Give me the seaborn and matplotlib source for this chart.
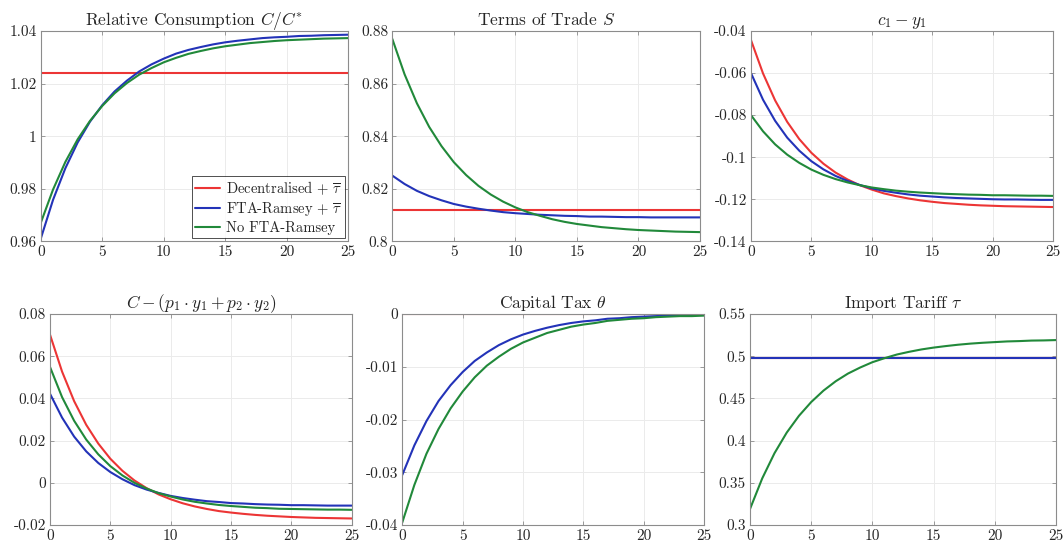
import numpy as np
import pandas as pd
import matplotlib
matplotlib.use('Agg')
import matplotlib.pyplot as plt
import seaborn as sns

# periods
t = list(range(26))

series_names = ['Decentralised', 'FTA-Ramsey', 'No FTA-Ramsey']
legend_labels = [r'Decentralised $+\ \overline{\tau}$', r'FTA-Ramsey $+\ \overline{\tau}$', 'No FTA-Ramsey']

# Relative consumption C/C*
cons_dec = [1.024] * 26
cons_fta = [0.961, 0.9758, 0.9878, 0.9976, 1.0055, 1.0118, 1.0170, 1.0211, 1.0246, 1.0273, 1.0295, 1.0314, 1.0328,
            1.0339, 1.0349, 1.0357, 1.0363, 1.0368, 1.0373, 1.0376, 1.0378, 1.0381, 1.0382, 1.0384, 1.0385, 1.0386]
cons_nofta = [0.967, 0.9797, 0.9902, 0.9988, 1.0058, 1.0115, 1.0163, 1.0202, 1.0234, 1.0259, 1.0281, 1.0298, 1.0313,
              1.0324, 1.0334, 1.0342, 1.0348, 1.0354, 1.0358, 1.0362, 1.0365, 1.0367, 1.0369, 1.0371, 1.0372, 1.0373]

# Terms of trade S
tot_dec = [0.812] * 26
tot_fta = [0.825, 0.8218, 0.8192, 0.8172, 0.8156, 0.8142, 0.8132, 0.8124, 0.8117, 0.8111, 0.8107, 0.8104, 0.8101,
           0.8099, 0.8097, 0.8096, 0.8094, 0.8094, 0.8093, 0.8092, 0.8092, 0.8091, 0.8091, 0.8091, 0.8091, 0.8091]
tot_nofta = [0.877, 0.8635, 0.8525, 0.8435, 0.8362, 0.8301, 0.8252, 0.8211, 0.8178, 0.8151, 0.8129, 0.8111, 0.8097,
             0.8084, 0.8074, 0.8066, 0.8060, 0.8054, 0.8050, 0.8046, 0.8043, 0.8041, 0.8039, 0.8037, 0.8036, 0.8035]

# c1 - y1
cy_dec = [-0.0443, -0.0602, -0.0730, -0.0832, -0.0914, -0.0979, -0.1031, -0.1073, -0.1106, -0.1133, -0.1154, -0.1172,
          -0.1185, -0.1196, -0.1205, -0.1212, -0.1218, -0.1222, -0.1226, -0.1229, -0.1231, -0.1233, -0.1234, -0.1235,
          -0.1236, -0.1237]
cy_fta = [-0.0600, -0.0727, -0.0827, -0.0907, -0.0969, -0.1019, -0.1058, -0.1089, -0.1113, -0.1132, -0.1148, -0.1160,
          -0.1169, -0.1177, -0.1183, -0.1187, -0.1191, -0.1194, -0.1196, -0.1198, -0.1200, -0.1201, -0.1201, -0.1202,
          -0.1203, -0.1203]
cy_nofta = [-0.0800, -0.0877, -0.0939, -0.0988, -0.1027, -0.1059, -0.1084, -0.1104, -0.1120, -0.1133, -0.1144, -0.1152,
            -0.1159, -0.1164, -0.1168, -0.1171, -0.1174, -0.1176, -0.1178, -0.1179, -0.1181, -0.1181, -0.1182, -0.1183,
            -0.1183, -0.1184]

# C - (p1*y1 + p2*y2)
nx_dec = [0.0702, 0.0527, 0.0387, 0.0275, 0.0186, 0.0114, 0.0057, 0.0011, -0.0025, -0.0055, -0.0078, -0.0097, -0.0112,
          -0.0124, -0.0134, -0.0141, -0.0147, -0.0152, -0.0156, -0.0159, -0.0162, -0.0164, -0.0166, -0.0167, -0.0168,
          -0.0169]
nx_fta = [0.0422, 0.0309, 0.0219, 0.0149, 0.0094, 0.0051, 0.0017, -0.0011, -0.0032, -0.0048, -0.0062, -0.0072, -0.0080,
          -0.0087, -0.0091, -0.0096, -0.0098, -0.0101, -0.0103, -0.0104, -0.0106, -0.0106, -0.0107, -0.0108, -0.0108,
          -0.0108]
nx_nofta = [0.0549, 0.0406, 0.0294, 0.0205, 0.0135, 0.0079, 0.0035, 0.0000, -0.0027, -0.0049, -0.0065, -0.0079,
            -0.0090, -0.0098, -0.0105, -0.0110, -0.0114, -0.0118, -0.0120, -0.0123, -0.0124, -0.0125, -0.0126,
            -0.0127, -0.0127, -0.0128]

# capital tax theta
tax_dec = [0.0] * 26
tax_fta = [-0.0305, -0.0249, -0.0203, -0.0165, -0.0135, -0.0110, -0.0089, -0.0073, -0.0059, -0.0048, -0.0039, -0.0032,
           -0.0026, -0.0021, -0.0017, -0.0014, -0.0012, -0.0009, -0.0008, -0.0006, -0.0005, -0.0004, -0.0003, -0.0003,
           -0.0002, -0.0002]
tax_nofta = [-0.0395, -0.0324, -0.0265, -0.0218, -0.0179, -0.0147, -0.0120, -0.0098, -0.0081, -0.0066, -0.0054,
             -0.0045, -0.0036, -0.0030, -0.0024, -0.0020, -0.0017, -0.0013, -0.0011, -0.0009, -0.0008, -0.0006,
             -0.0005, -0.0004, -0.0004, -0.0003]

# import tariff tau
tar_dec = [0.498] * 26
tar_fta = [0.498] * 26
tar_nofta = [0.3190, 0.3553, 0.3851, 0.4095, 0.4294, 0.4457, 0.4592, 0.4703, 0.4794, 0.4866, 0.4929, 0.4977, 0.5020,
             0.5052, 0.5080, 0.5102, 0.5120, 0.5136, 0.5149, 0.5159, 0.5167, 0.5175, 0.5179, 0.5185, 0.5187, 0.5191]

panels = [
    (r'Relative Consumption $C/C^{*}$', (cons_dec, cons_fta, cons_nofta),
     [0.96, 0.98, 1.0, 1.02, 1.04], ['0.96', '0.98', '1', '1.02', '1.04']),
    (r'Terms of Trade $S$', (tot_dec, tot_fta, tot_nofta),
     [0.8, 0.82, 0.84, 0.86, 0.88], ['0.8', '0.82', '0.84', '0.86', '0.88']),
    (r'$c_1 - y_1$', (cy_dec, cy_fta, cy_nofta),
     [-0.14, -0.12, -0.1, -0.08, -0.06, -0.04], ['-0.14', '-0.12', '-0.1', '-0.08', '-0.06', '-0.04']),
    (r'$C - (p_1 \cdot y_1 + p_2 \cdot y_2)$', (nx_dec, nx_fta, nx_nofta),
     [-0.02, 0, 0.02, 0.04, 0.06, 0.08], ['-0.02', '0', '0.02', '0.04', '0.06', '0.08']),
    (r'Capital Tax $\theta$', (tax_dec, tax_fta, tax_nofta),
     [-0.04, -0.03, -0.02, -0.01, 0], ['-0.04', '-0.03', '-0.02', '-0.01', '0']),
    (r'Import Tariff $\tau$', (tar_dec, tar_fta, tar_nofta),
     [0.3, 0.35, 0.4, 0.45, 0.5, 0.55], ['0.3', '0.35', '0.4', '0.45', '0.5', '0.55']),
]

positions = [
    [0.0383, 0.5564, 0.2891, 0.3866],
    [0.3687, 0.5564, 0.2892, 0.3866],
    [0.7058, 0.5564, 0.2838, 0.3866],
    [0.0470, 0.0349, 0.2835, 0.3879],
    [0.3781, 0.0349, 0.2836, 0.3879],
    [0.7049, 0.0349, 0.2876, 0.3879],
]

colors = {'Decentralised': '#ec3535', 'FTA-Ramsey': '#2333b8', 'No FTA-Ramsey': '#21893a'}

sns.set_theme(style='white')
plt.rcParams['font.family'] = ['cmr10', 'DejaVu Serif']
plt.rcParams['mathtext.fontset'] = 'cm'
plt.rcParams['axes.unicode_minus'] = False
plt.rcParams['axes.formatter.use_mathtext'] = True

fig = plt.figure(figsize=(10.64, 5.44), dpi=100)

for i, (title, vals, yticks, ylabels) in enumerate(panels):
    ax = fig.add_axes(positions[i])
    df = pd.DataFrame({
        't': t * 3,
        'value': list(vals[0]) + list(vals[1]) + list(vals[2]),
        'series': [s for s in series_names for _ in t],
    })
    sns.lineplot(data=df, x='t', y='value', hue='series', hue_order=series_names,
                 palette=colors, linewidth=1.5, ax=ax, legend=False)
    ax.set_xlim(0, 25)
    ax.set_ylim(yticks[0], yticks[-1])
    ax.set_xticks([0, 5, 10, 15, 20, 25], ['0', '5', '10', '15', '20', '25'])
    ax.set_yticks(yticks, ylabels)
    ax.set_xlabel('')
    ax.set_ylabel('')
    ax.set_title(title, fontsize=12.5, pad=4)
    ax.grid(True, color='#ebebeb', linewidth=0.7)
    ax.set_axisbelow(True)
    for sp in ax.spines.values():
        sp.set_color('#8c8c8c')
        sp.set_linewidth(0.8)
    ax.tick_params(axis='both', direction='in', length=3, width=0.6, color='#8c8c8c',
                   labelsize=11, pad=3, top=True, right=True, bottom=True, left=True)
    if i == 0:
        handles = ax.get_lines()[:3]
        leg = ax.legend(handles, legend_labels, loc='lower right', fontsize=10.5,
                        frameon=True, fancybox=False, handlelength=1.7, borderpad=0.25,
                        labelspacing=0.2, handletextpad=0.4, borderaxespad=0.2)
        leg.get_frame().set_edgecolor('black')
        leg.get_frame().set_linewidth(0.6)

fig.savefig('out.png', dpi=100)
